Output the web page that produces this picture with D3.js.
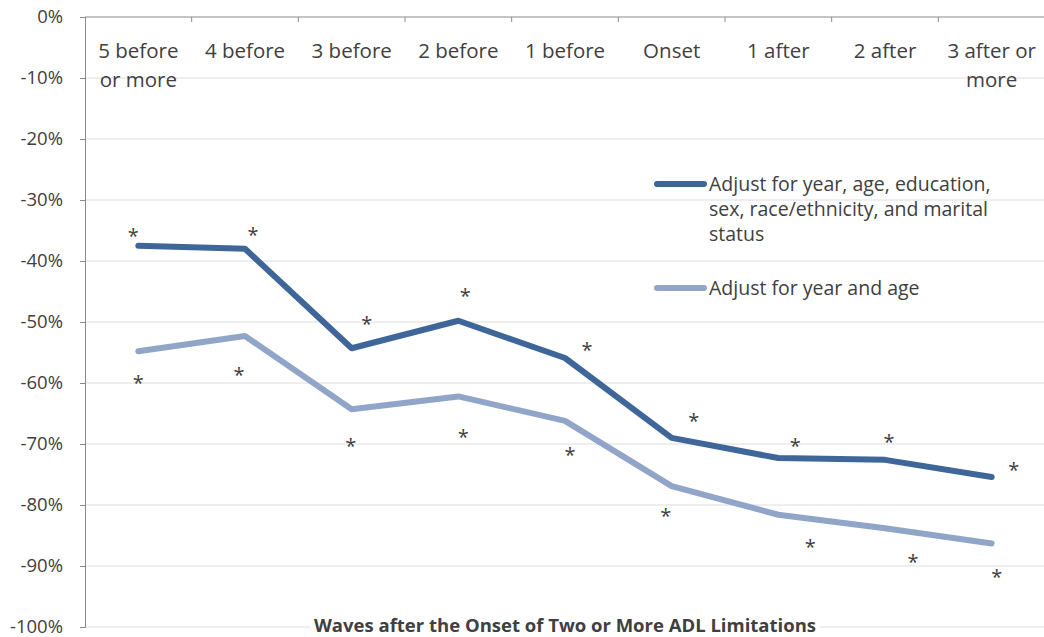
<!DOCTYPE html>
<html>
<head>
<meta charset="utf-8">
<script src="https://cdn.jsdelivr.net/npm/d3@7"></script>
<style>
  html, body { margin: 0; padding: 0; background: #fff; }
  svg { display: block; }
  text { font-family: "Open Sans", "DejaVu Sans", sans-serif; fill: #404040; }
</style>
</head>
<body>
<svg id="chart" width="1044" height="637"></svg>
<script>
// Waves relative to the onset of two or more ADL limitations
const categories = [
  ["5 before", "or more"], ["4 before"], ["3 before"], ["2 before"], ["1 before"],
  ["Onset"], ["1 after"], ["2 after"], ["3 after or", "more"]
];

// Percent change, fully adjusted model
const adjustAll = [-37.5, -38.0, -54.3, -49.8, -55.9, -69.0, -72.3, -72.6, -75.4];
// Percent change, adjusted for year and age only
const adjustYearAge = [-54.8, -52.3, -64.3, -62.2, -66.2, -76.9, -81.6, -83.8, -86.3];

const yTicks = [0, -10, -20, -30, -40, -50, -60, -70, -80, -90, -100];

const seriesNames = [
  ["Adjust for year, age, education,", "sex, race/ethnicity, and marital", "status"],
  ["Adjust for year and age"]
];

// Significance markers: pixel nudges of each "*" relative to its point
const starNudgeAll = [[-5,-13],[8,-17],[15,-27],[7,-28],[22,-11],[22,-20],[17,-15],[4,-21],[22,-10]];
const starNudgeYearAge = [[0,29],[-6,36],[-1,34],[5,38],[5,31],[-6,27],[32,29],[28,31],[5,31]];

const svg = d3.select("#chart");
const plotLeft = 85, plotRight = 1045, plotTop = 17, plotBottom = 627;

const x = d3.scaleBand().domain(d3.range(categories.length)).range([plotLeft, plotRight]).padding(0);
const y = d3.scaleLinear().domain([0, -100]).range([plotTop, plotBottom]);
const cx = i => x(i) + x.bandwidth() / 2;

// Horizontal gridlines
svg.append("g").selectAll("line").data(yTicks.filter(t => t !== 0)).join("line")
  .attr("x1", plotLeft).attr("x2", plotRight)
  .attr("y1", d => y(d)).attr("y2", d => y(d))
  .attr("stroke", "#dedede").attr("stroke-width", 1);

// Vertical value axis
const yAxis = d3.axisLeft(y).tickValues(yTicks).tickFormat(d => d + "%").tickSize(5).tickPadding(17);
const gy = svg.append("g").attr("transform", `translate(${plotLeft},0)`).call(yAxis);
gy.select(".domain").attr("stroke", "#8a8a8a");
gy.selectAll(".tick line").attr("stroke", "#8a8a8a");
gy.selectAll(".tick text")
  .style("font-family", '"Open Sans", sans-serif')
  .style("font-size", "18.5px").attr("fill", "#404040");

// Category axis along the 0% line, ticks at band edges
const edges = d3.range(categories.length + 1).map(i => plotLeft + i * x.bandwidth());
svg.append("line").attr("x1", plotLeft).attr("x2", plotRight).attr("y1", plotTop).attr("y2", plotTop)
  .attr("stroke", "#8a8a8a");
svg.append("g").selectAll("line").data(edges.slice(1, -1)).join("line")
  .attr("x1", d => d).attr("x2", d => d).attr("y1", plotTop).attr("y2", plotTop + 5)
  .attr("stroke", "#8a8a8a");

const catLabels = svg.append("g").selectAll("text").data(categories).join("text")
  .attr("x", (d, i) => cx(i)).attr("y", 58)
  .attr("text-anchor", "middle")
  .style("font-size", "20.5px");
catLabels.selectAll("tspan").data(d => d).join("tspan")
  .attr("x", function() { return this.parentNode.getAttribute("x"); })
  .attr("dy", (d, i) => i === 0 ? 0 : 29)
  .text(d => d);

// Lines
const line = d3.line().x((d, i) => cx(i)).y(d => y(d));
const colors = ["#3e6699", "#91a5c9"];
[[adjustYearAge, colors[1]], [adjustAll, colors[0]]].forEach(([vals, col]) => {
  svg.append("path").datum(vals)
    .attr("d", line)
    .attr("fill", "none")
    .attr("stroke", col)
    .attr("stroke-width", 6)
    .attr("stroke-linejoin", "round")
    .attr("stroke-linecap", "round");
});

// Significance asterisks
function stars(vals, nudges) {
  svg.append("g").selectAll("text").data(vals).join("text")
    .attr("x", (d, i) => cx(i) + nudges[i][0])
    .attr("y", (d, i) => y(d) + nudges[i][1] + 10)
    .attr("text-anchor", "middle")
    .style("font-size", "20px")
    .attr("fill", "#333")
    .text("*");
}
stars(adjustAll, starNudgeAll);
stars(adjustYearAge, starNudgeYearAge);

// Legend
const legend = svg.append("g");
const legendRows = [184, 288];
seriesNames.forEach((lines, k) => {
  const ly = legendRows[k];
  legend.append("line")
    .attr("x1", 657).attr("x2", 704).attr("y1", ly).attr("y2", ly)
    .attr("stroke", colors[k]).attr("stroke-width", 6).attr("stroke-linecap", "round");
  const t = legend.append("text").attr("x", 709).attr("y", ly + 7).style("font-size", "19.5px");
  t.selectAll("tspan").data(lines).join("tspan")
    .attr("x", 709).attr("dy", (d, i) => i === 0 ? 0 : 25).text(d => d);
});

// Axis title with a white backing over the bottom gridline
const titleBack = svg.append("rect").attr("fill", "#fff");
const title = svg.append("text")
  .attr("x", (plotLeft + plotRight) / 2).attr("y", 632)
  .attr("text-anchor", "middle")
  .style("font-size", "18.5px").style("font-weight", "bold")
  .attr("fill", "#111")
  .text("Waves after the Onset of Two or More ADL Limitations");
const bb = title.node().getBBox();
titleBack.attr("x", bb.x - 4).attr("y", bb.y).attr("width", bb.width + 8).attr("height", bb.height);
</script>
</body>
</html>
